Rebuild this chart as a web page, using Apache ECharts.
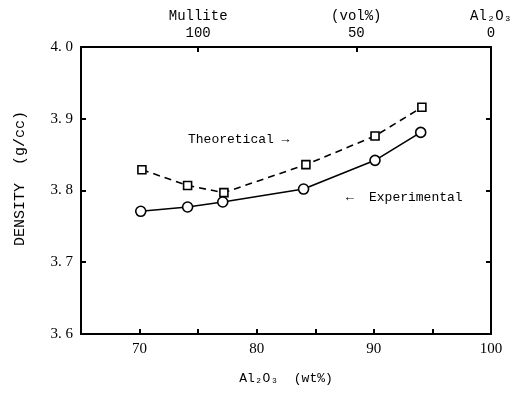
<!DOCTYPE html>
<html><head><meta charset="utf-8">
<script src="https://cdn.jsdelivr.net/npm/echarts@6/dist/echarts.min.js"></script>
<style>html,body{margin:0;padding:0;background:#fff}#c{width:510px;height:394px}</style>
</head><body><div id="c"></div>
<script>
const theoWt = [70.2, 74.1, 77.2, 84.2, 90.1, 94.1];
const theoDensity = [3.829, 3.807, 3.797, 3.836, 3.876, 3.916];
const expWt = [70.1, 74.1, 77.1, 84.0, 90.1, 94.0];
const expDensity = [3.771, 3.777, 3.784, 3.802, 3.842, 3.881];
const topTickWt = [75, 88.5, 100];
const topTickLabels = ['100', '50', '0'];
const topTickTitles = ['Mullite', '(vol%)', 'Al₂O₃'];

const FONT = '"Liberation Mono", "DejaVu Sans Mono", monospace';
const NUMFONT = '"Liberation Serif", "DejaVu Serif", serif';
const chart = echarts.init(document.getElementById('c'), null, {renderer: 'canvas'});
const axisLine = {show: true, lineStyle: {color: '#000', width: 2}};
const tick = {show: true, inside: true, length: 5, lineStyle: {color: '#000', width: 2}};

chart.setOption({
  animation: false,
  backgroundColor: '#fff',
  grid: {left: 81, right: 19, top: 47, bottom: 60, containLabel: false, outerBoundsMode: 'none'},
  xAxis: [{
    type: 'value', position: 'bottom', min: 65, max: 100, interval: 5,
    axisLine: axisLine, axisTick: tick, splitLine: {show: false},
    axisLabel: {color: '#000', fontFamily: NUMFONT, fontSize: 15, margin: 8,
      formatter: v => (v % 10 === 0 ? String(v) : '')},
    name: 'Al₂O₃  (wt%)', nameLocation: 'middle', nameGap: 38,
    nameTextStyle: {color: '#000', fontFamily: FONT, fontSize: 13}
  }, {
    type: 'value', position: 'top', min: 65, max: 100,
    axisLine: axisLine, splitLine: {show: false},
    axisTick: Object.assign({}, tick, {customValues: topTickWt}),
    axisLabel: {color: '#000', fontFamily: FONT, fontSize: 14, margin: 5, lineHeight: 17,
      customValues: topTickWt,
      formatter: v => {
        const i = topTickWt.findIndex(t => Math.abs(t - v) < 1e-6);
        return i < 0 ? '' : topTickTitles[i] + '\n' + topTickLabels[i];
      }}
  }],
  yAxis: [{
    type: 'value', position: 'left', min: 3.6, max: 4.0, interval: 0.1,
    axisLine: axisLine, axisTick: tick, splitLine: {show: false},
    axisLabel: {color: '#000', fontFamily: NUMFONT, fontSize: 15, margin: 8,
      formatter: v => v.toFixed(1).replace('.', '. ')},
    name: 'DENSITY  (g/cc)', nameLocation: 'middle', nameGap: 53,
    nameTextStyle: {color: '#000', fontFamily: FONT, fontSize: 15, padding: [0, 0, 0, 24]}
  }, {
    type: 'value', position: 'right', min: 3.6, max: 4.0, interval: 0.1,
    axisLine: axisLine, axisTick: tick, splitLine: {show: false},
    axisLabel: {show: false}
  }],
  graphic: [
    {type: 'text', left: 188, top: 133,
      style: {text: 'Theoretical →', font: '13px ' + FONT, fill: '#000'}},
    {type: 'text', left: 346, top: 191,
      style: {text: '←', font: '13px ' + FONT, fill: '#000'}},
    {type: 'text', left: 369, top: 191,
      style: {text: 'Experimental', font: '13px ' + FONT, fill: '#000'}}
  ],
  series: [{
    name: 'Theoretical', type: 'line', xAxisIndex: 0, yAxisIndex: 0,
    data: theoWt.map((x, i) => [x, theoDensity[i]]),
    symbol: 'rect', symbolSize: 8,
    lineStyle: {color: '#000', width: 1.6, type: [7, 5]},
    itemStyle: {color: '#fff', borderColor: '#000', borderWidth: 1.6}
  }, {
    name: 'Experimental', type: 'line', xAxisIndex: 0, yAxisIndex: 0,
    data: expWt.map((x, i) => [x, expDensity[i]]),
    symbol: 'circle', symbolSize: 10,
    lineStyle: {color: '#000', width: 1.6},
    itemStyle: {color: '#fff', borderColor: '#000', borderWidth: 1.6}
  }]
});
</script></body></html>
